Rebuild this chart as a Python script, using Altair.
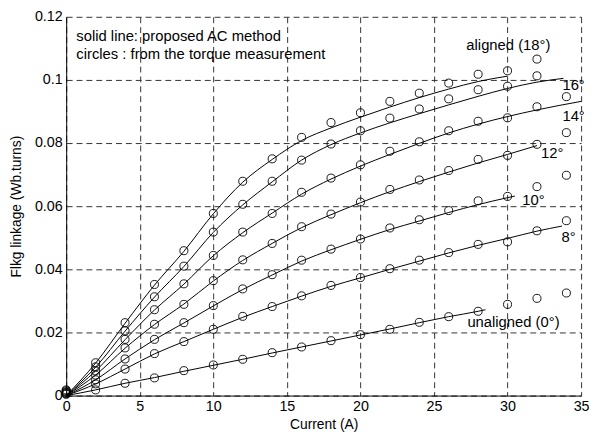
import altair as alt
import pandas as pd

FONT = "Liberation Sans"

# ---------------- measured (circles) ----------------
currents = [0, 2, 4, 6, 8, 10, 12, 14, 16, 18, 20, 22, 24, 26, 28, 30, 32, 34]
circ_18 = [0.0018, 0.0104, 0.0231, 0.0352, 0.0459, 0.0577, 0.0679, 0.0750, 0.0818, 0.0865, 0.0896, 0.0932, 0.0958, 0.0990, 0.1018, 0.1029, 0.1066, None]
circ_16 = [0.0015, 0.0091, 0.0205, 0.0313, 0.0410, 0.0518, 0.0606, 0.0679, 0.0746, 0.0797, 0.0839, 0.0879, 0.0908, 0.0940, 0.0969, 0.0980, 0.1013, None]
circ_14 = [0.0012, 0.0078, 0.0178, 0.0272, 0.0354, 0.0444, 0.0518, 0.0577, 0.0644, 0.0689, 0.0731, 0.0774, 0.0804, 0.0839, 0.0869, 0.0880, 0.0915, 0.0947]
circ_12 = [0.0010, 0.0065, 0.0151, 0.0226, 0.0289, 0.0364, 0.0430, 0.0482, 0.0535, 0.0575, 0.0613, 0.0653, 0.0683, 0.0713, 0.0748, 0.0761, 0.0796, 0.0833]
circ_10 = [0.0008, 0.0050, 0.0116, 0.0178, 0.0231, 0.0285, 0.0338, 0.0383, 0.0429, 0.0464, 0.0496, 0.0531, 0.0557, 0.0586, 0.0617, 0.0631, 0.0662, 0.0698]
circ_8 = [0.0006, 0.0037, 0.0084, 0.0133, 0.0171, 0.0210, 0.0251, 0.0282, 0.0316, 0.0349, 0.0374, 0.0402, 0.0429, 0.0453, 0.0479, 0.0487, 0.0522, 0.0554]
circ_0 = [0.0004, 0.0018, 0.0039, 0.0056, 0.0079, 0.0097, 0.0115, 0.0136, 0.0154, 0.0174, 0.0193, 0.0210, 0.0232, 0.0250, 0.0267, 0.0289, 0.0308, 0.0325]

# ---------------- proposed AC method (lines) ----------------
line_x_18 = [0, 2, 4, 6, 8, 10, 12, 14, 16, 18, 20, 22, 24, 26, 28, 30]
line_18 = [0, 0.0103, 0.0229, 0.0350, 0.0457, 0.0576, 0.0676, 0.0748, 0.0808, 0.0848, 0.0882, 0.0914, 0.0944, 0.0971, 0.0995, 0.1012]
line_x_16 = [0, 2, 4, 6, 8, 10, 12, 14, 16, 18, 20, 22, 24, 26, 28, 30, 32, 33.8]
line_16 = [0, 0.0090, 0.0204, 0.0312, 0.0409, 0.0517, 0.0604, 0.0677, 0.0746, 0.0795, 0.0832, 0.0864, 0.0893, 0.0921, 0.0948, 0.0973, 0.0993, 0.1005]
line_x_14 = [0, 2, 4, 6, 8, 10, 12, 14, 16, 18, 20, 22, 24, 26, 28, 30, 32, 35]
line_14 = [0, 0.0078, 0.0177, 0.0271, 0.0353, 0.0443, 0.0516, 0.0578, 0.0638, 0.0686, 0.0727, 0.0764, 0.0799, 0.0832, 0.0860, 0.0884, 0.0905, 0.0932]
line_x_12 = [0, 2, 4, 6, 8, 10, 12, 14, 16, 18, 20, 22, 24, 26, 28, 30, 32]
line_12 = [0, 0.0065, 0.0150, 0.0225, 0.0290, 0.0363, 0.0428, 0.0482, 0.0532, 0.0573, 0.0611, 0.0646, 0.0678, 0.0708, 0.0737, 0.0764, 0.0792]
line_x_10 = [0, 2, 4, 6, 8, 10, 12, 14, 16, 18, 20, 22, 24, 26, 28, 30, 30.5]
line_10 = [0, 0.0050, 0.0116, 0.0177, 0.0230, 0.0284, 0.0336, 0.0382, 0.0426, 0.0462, 0.0495, 0.0526, 0.0553, 0.0580, 0.0605, 0.0627, 0.0632]
line_x_8 = [0, 2, 4, 6, 8, 10, 12, 14, 16, 18, 20, 22, 24, 26, 28, 30, 32, 33.7]
line_8 = [0, 0.0037, 0.0084, 0.0132, 0.0171, 0.0210, 0.0248, 0.0282, 0.0315, 0.0346, 0.0373, 0.0400, 0.0426, 0.0452, 0.0476, 0.0498, 0.0521, 0.0537]
line_x_0 = [0, 2, 4, 6, 8, 10, 12, 14, 16, 18, 20, 22, 24, 26, 28, 28.5]
line_0 = [0, 0.0018, 0.0039, 0.0057, 0.0077, 0.0096, 0.0115, 0.0135, 0.0154, 0.0173, 0.0192, 0.0211, 0.0231, 0.0250, 0.0267, 0.0272]

# ---------------- annotations ----------------
note_text = ["solid line: proposed AC method", "circles : from the torque measurement",
             "aligned (18°)", "16°", "14°", "12°", "10°", "8°", "unaligned (0°)"]
note_x = [0.69, 0.69, 27.2, 33.73, 33.73, 32.28, 31.0, 33.67, 27.27]
note_y = [0.1140, 0.1081, 0.1112, 0.0985, 0.0884, 0.0767, 0.0618, 0.0501, 0.0233]

circ_sets = {"18": circ_18, "16": circ_16, "14": circ_14, "12": circ_12,
             "10": circ_10, "8": circ_8, "0": circ_0}
line_sets = {"18": (line_x_18, line_18), "16": (line_x_16, line_16),
             "14": (line_x_14, line_14), "12": (line_x_12, line_12),
             "10": (line_x_10, line_10), "8": (line_x_8, line_8),
             "0": (line_x_0, line_0)}

circ_rows = []
for k, vals in circ_sets.items():
    for c, v in zip(currents, vals):
        if v is not None:
            circ_rows.append({"angle": k, "I": c, "psi": v})
circ_df = pd.DataFrame(circ_rows)

line_rows = []
for k, (xs, ys) in line_sets.items():
    for c, v in zip(xs, ys):
        line_rows.append({"angle": k, "I": c, "psi": v})
line_df = pd.DataFrame(line_rows)

note_df = pd.DataFrame({"t": note_text, "I": note_x, "psi": note_y})

xscale = alt.Scale(domain=[0, 35], nice=False, zero=False)
yscale = alt.Scale(domain=[0, 0.12], nice=False)

xaxis = alt.Axis(values=[0, 5, 10, 15, 20, 25, 30, 35], title="Current (A)",
                 grid=True, gridDash=[6, 4], gridColor="#333", gridWidth=1, gridOpacity=1,
                 domainColor="black", domainWidth=1, ticks=False, tickSize=0,
                 labelFont=FONT, labelFontSize=14.5, labelColor="black", labelPadding=4,
                 titleFont=FONT, titleFontSize=14, titleFontWeight="normal",
                 titleColor="black", titlePadding=5, labelFlush=False)
yaxis = alt.Axis(values=[0, 0.02, 0.04, 0.06, 0.08, 0.1, 0.12], format=".2~f",
                 title="Flkg linkage (Wb.turns)",
                 grid=True, gridDash=[6, 4], gridColor="#333", gridWidth=1, gridOpacity=1,
                 domainColor="black", domainWidth=1, ticks=False, tickSize=0,
                 labelFont=FONT, labelFontSize=14.5, labelColor="black", labelPadding=4,
                 titleFont=FONT, titleFontSize=14, titleFontWeight="normal",
                 titleColor="black", titlePadding=11, labelFlush=False)

lines = alt.Chart(line_df).mark_line(color="black", strokeWidth=1, interpolate="monotone").encode(
    x=alt.X("I:Q", scale=xscale, axis=xaxis),
    y=alt.Y("psi:Q", scale=yscale, axis=yaxis),
    detail="angle:N",
)

circles = alt.Chart(circ_df).mark_point(shape="circle", filled=False, color="black",
                                         size=66, strokeWidth=0.9, opacity=1).encode(
    x=alt.X("I:Q", scale=xscale),
    y=alt.Y("psi:Q", scale=yscale),
)

notes = alt.Chart(note_df).mark_text(align="left", baseline="middle", font=FONT,
                                     fontSize=15, color="black").encode(
    x=alt.X("I:Q", scale=xscale),
    y=alt.Y("psi:Q", scale=yscale),
    text="t:N",
)

chart = alt.layer(lines, circles, notes).properties(
    width=522, height=384,
    autosize=alt.AutoSizeParams(type="none"),
    padding={"left": 59, "top": 6, "right": 8, "bottom": 34},
    background="white",
).configure_view(stroke=None)

chart.save("out.html", embed_options={"renderer": "svg", "actions": False})
